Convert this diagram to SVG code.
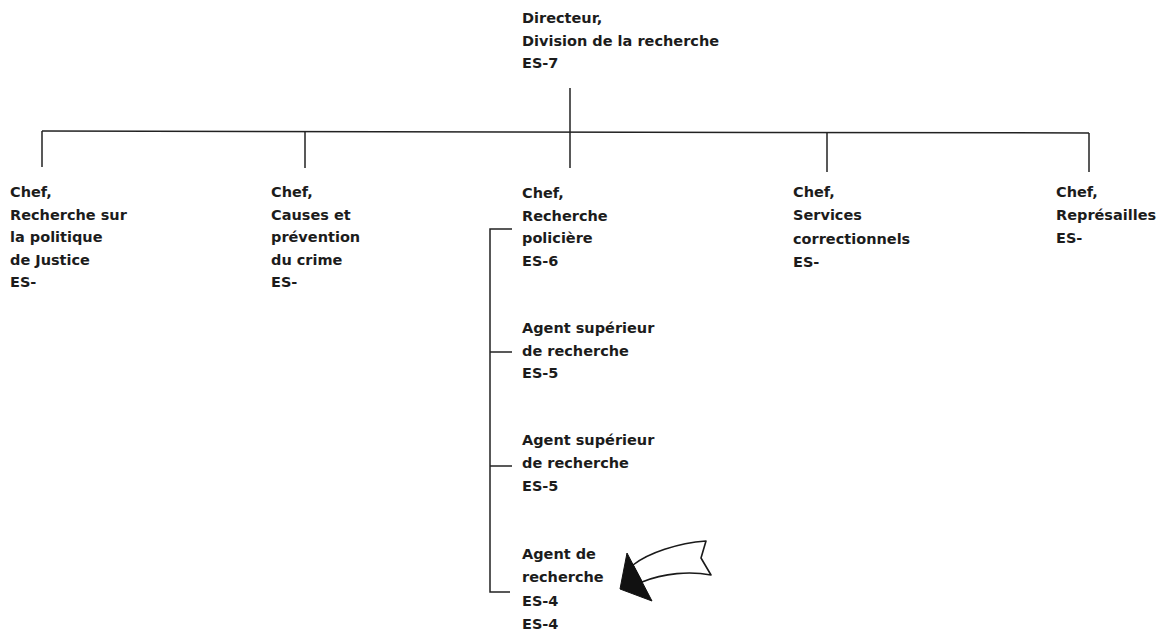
<svg xmlns="http://www.w3.org/2000/svg" width="1164" height="637" viewBox="0 0 1164 637">
  <style>
    .lbl { font-family: "DejaVu Sans", "Liberation Sans", sans-serif; font-weight: bold; font-size: 14.5px; fill: #1c1c1c; }
    .ln { fill: none; stroke: #222; stroke-width: 1.5; }
  </style>
  <rect width="1164" height="637" fill="#ffffff"/>

  <!-- connectors -->
  <g id="connectors" class="ln">
    <path d="M570,88 V168"/>
    <path d="M42,131 L1089,133"/>
    <path d="M42,131 V167"/>
    <path d="M305,131.5 V168"/>
    <path d="M827,132.5 V172"/>
    <path d="M1089,133 V172"/>
    <!-- bracket for the police research section -->
    <path d="M512,229 H490 V592 H510"/>
    <path d="M490,352 H512"/>
    <path d="M490,466 H512"/>
  </g>

  <g id="directeur">
    <text class="lbl" x="522" y="23">Directeur,</text>
    <text class="lbl" x="522" y="46">Division de la recherche</text>
    <text class="lbl" x="522" y="68">ES-7</text>
  </g>

  <g id="chef-politique">
    <text class="lbl" x="10" y="197">Chef,</text>
    <text class="lbl" x="10" y="220">Recherche sur</text>
    <text class="lbl" x="10" y="242">la politique</text>
    <text class="lbl" x="10" y="265">de Justice</text>
    <text class="lbl" x="10" y="287">ES-</text>
  </g>

  <g id="chef-causes">
    <text class="lbl" x="271" y="197">Chef,</text>
    <text class="lbl" x="271" y="220">Causes et</text>
    <text class="lbl" x="271" y="242">prévention</text>
    <text class="lbl" x="271" y="265">du crime</text>
    <text class="lbl" x="271" y="287">ES-</text>
  </g>

  <g id="chef-policiere">
    <text class="lbl" x="522" y="198">Chef,</text>
    <text class="lbl" x="522" y="221">Recherche</text>
    <text class="lbl" x="522" y="243">policière</text>
    <text class="lbl" x="522" y="266">ES-6</text>
  </g>

  <g id="chef-correctionnels">
    <text class="lbl" x="793" y="197">Chef,</text>
    <text class="lbl" x="793" y="220">Services</text>
    <text class="lbl" x="793" y="244">correctionnels</text>
    <text class="lbl" x="793" y="267">ES-</text>
  </g>

  <g id="chef-represailles">
    <text class="lbl" x="1056" y="197">Chef,</text>
    <text class="lbl" x="1056" y="220">Représailles</text>
    <text class="lbl" x="1056" y="243">ES-</text>
  </g>

  <g id="agent-superieur-1">
    <text class="lbl" x="522" y="333">Agent supérieur</text>
    <text class="lbl" x="522" y="356">de recherche</text>
    <text class="lbl" x="522" y="378">ES-5</text>
  </g>

  <g id="agent-superieur-2">
    <text class="lbl" x="522" y="445">Agent supérieur</text>
    <text class="lbl" x="522" y="468">de recherche</text>
    <text class="lbl" x="522" y="491">ES-5</text>
  </g>

  <g id="agent-recherche">
    <text class="lbl" x="522" y="559">Agent de</text>
    <text class="lbl" x="522" y="582">recherche</text>
    <text class="lbl" x="522" y="606">ES-4</text>
    <text class="lbl" x="522" y="629">ES-4</text>
  </g>

  <!-- hand-drawn pointer arrow -->
  <g id="pointer">
    <path d="M633,565 C648,553 678,543 706,541 L701,558 L711,575 C690,571 664,573 642,582 Z" fill="#ffffff" stroke="#1a1a1a" stroke-width="1.6" stroke-linejoin="round"/>
    <polygon points="627,553 620,589 652,601" fill="#111111" stroke="#111111" stroke-width="1" stroke-linejoin="round"/>
  </g>
</svg>
